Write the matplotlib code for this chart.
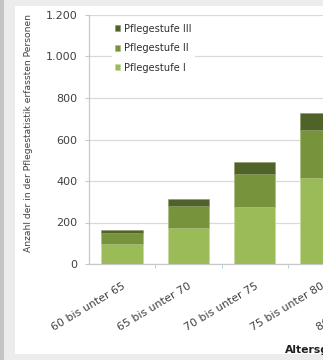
import matplotlib
matplotlib.use("Agg")
import matplotlib.pyplot as plt
from matplotlib.patches import Rectangle
from matplotlib.ticker import FuncFormatter, MultipleLocator
import numpy as np

# Age groups (x categories) and care-level counts per group
categories = ["60 bis unter 65", "65 bis unter 70", "70 bis unter 75",
              "75 bis unter 80", "80 bis unter 85"]
stufe_1 = [96, 174, 275, 414]
stufe_2 = [51, 106, 160, 233]
stufe_3 = [19, 31, 58, 79]
series_labels = ["Pflegestufe I", "Pflegestufe II", "Pflegestufe III"]
colors = ["#9bbb59", "#77933c", "#4f6228"]

plt.rcParams["font.family"] = ["DejaVu Sans"]

W, H = 323, 360
fig = plt.figure(figsize=(W / 100, H / 100), dpi=100)
fig.patch.set_facecolor("#ececec")
# white chart canvas and the darker frame strip on the left
fig.patches.append(Rectangle((15 / W, 6 / H), 1, 348 / H, transform=fig.transFigure,
                             facecolor="white", edgecolor="none", zorder=-5))
fig.patches.append(Rectangle((0, 0), 4 / W, 1, transform=fig.transFigure,
                             facecolor="#c4c4c4", edgecolor="none", zorder=-5))

step = 66.35
left_px, bottom_px, top_px = 88.8, 264, 15
n_slots = 5
ax = fig.add_axes([left_px / W, (H - bottom_px) / H,
                   n_slots * step / W, (bottom_px - top_px) / H])
ax.set_zorder(2)
ax.set_facecolor("none")

x = np.arange(len(stufe_1))
s1 = np.array(stufe_1)
s2 = np.array(stufe_2)
s3 = np.array(stufe_3)
bw = 0.62
ax.bar(x, s1, bw, color=colors[0], label=series_labels[0], zorder=3,
       edgecolor="#c6d89a", linewidth=0.4)
ax.bar(x, s2, bw, bottom=s1, color=colors[1], label=series_labels[1], zorder=3,
       edgecolor="#a8bd78", linewidth=0.4)
ax.bar(x, s3, bw, bottom=s1 + s2, color=colors[2], label=series_labels[2], zorder=3,
       edgecolor="#8a9a62", linewidth=0.4)

ax.set_xlim(-0.5, n_slots - 0.5)
ax.set_ylim(0, 1200)
ax.yaxis.set_major_locator(MultipleLocator(200))
ax.yaxis.set_major_formatter(FuncFormatter(lambda v, p: f"{int(v):,}".replace(",", ".")))
ax.grid(axis="y", color="#d9d9d9", linewidth=0.9, zorder=0)
ax.set_axisbelow(True)

for side in ["top", "right"]:
    ax.spines[side].set_visible(False)
ax.spines["left"].set_color("#c8c8c8")
ax.spines["bottom"].set_color("#c8c8c8")
ax.spines["left"].set_linewidth(0.9)
ax.spines["bottom"].set_linewidth(0.9)

ax.tick_params(axis="y", length=3, color="#c8c8c8", labelsize=8,
               labelcolor="#404040", pad=5)
ax.set_xticks(np.arange(len(categories)))
ax.set_xticklabels(categories, rotation=31, ha="right", rotation_mode="anchor",
                   va="top", fontsize=7.9, color="#404040")
ax.set_xticks(np.arange(len(categories)) + 0.5, minor=True)
ax.tick_params(axis="x", which="major", length=0, pad=12)
ax.tick_params(axis="x", which="minor", length=3, color="#b8c4d8")
ax.tick_params(axis="x", which="minor", labelbottom=False)

ax.set_ylabel("Anzahl der in der Pflegestatistik erfassten Personen",
              fontsize=6.6, color="#404040")
ax.yaxis.set_label_coords((33 - left_px) / (n_slots * step), (bottom_px - 133) / (bottom_px - top_px))
ax.set_xlabel("Altersgruppe", fontsize=7.8, fontweight="bold", color="#202020",
              ha="left", va="center")
ax.xaxis.set_label_coords((285 - left_px) / (n_slots * step), (bottom_px - 350) / (bottom_px - top_px))

handles, labels = ax.get_legend_handles_labels()
leg = ax.legend(handles[::-1], labels[::-1], loc="upper left",
                bbox_to_anchor=((112 - left_px) / (n_slots * step), (bottom_px - 21) / (bottom_px - top_px)),
                frameon=True, facecolor="white", edgecolor="none", framealpha=1,
                fontsize=7.1, handlelength=0.55, handleheight=0.55, handletextpad=0.4,
                labelspacing=0.95, borderpad=0.3, borderaxespad=0, fancybox=False)
for t in leg.get_texts():
    t.set_color("#303030")

fig.savefig("out.png", dpi=100, facecolor=fig.get_facecolor())
